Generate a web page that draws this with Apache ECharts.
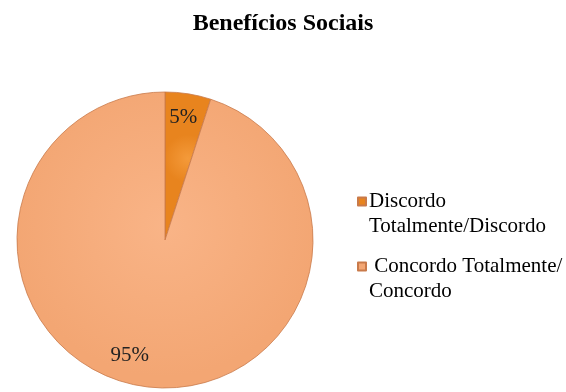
<!DOCTYPE html>
<html><head><meta charset="utf-8">
<script src="https://cdn.jsdelivr.net/npm/echarts@6/dist/echarts.min.js"></script>
<style>html,body{margin:0;padding:0;background:#fff}#c{width:566px;height:392px}</style>
</head><body><div id="c"></div>
<script>
const titleText = 'Benefícios Sociais';
const categories = ['Discordo Totalmente/Discordo', 'Concordo Totalmente/Concordo'];
const legendLabels = ['Discordo\nTotalmente/Discordo', ' Concordo Totalmente/\nConcordo'];
const values = [5, 95];
const colors = ['#EE8A2A', '#F5A875'];

const chart = echarts.init(document.getElementById('c'));
const serif = '"Liberation Serif", "DejaVu Serif", serif';
const grad = (inner, outer) => ({type:'radial', x:0.5, y:0.45, r:0.6, colorStops:[{offset:0,color:inner},{offset:0.85,color:outer},{offset:1,color:outer}]});
chart.setOption({
  animation: false,
  title: {text: titleText, left: 'center', top: 7, textStyle: {fontFamily: serif, fontSize: 24, fontWeight: 'bold', color: '#000'}},
  legend: {
    orient: 'vertical', left: 352, top: 184, itemGap: 15,
    itemWidth: 8, itemHeight: 33,
    icon: 'path://M0,0h8v8h-8z M0,33l0.001,0',
    data: categories,
    formatter: n => legendLabels[categories.indexOf(n)],
    textStyle: {fontFamily: serif, fontSize: 21, color: '#000', lineHeight: 25, padding:[0,0,0,-2]}
  },
  series: [{
    type: 'pie', center: [165, 240], radius: [0, 148], startAngle: 90, clockwise: true,
    label: {show: false}, labelLine: {show: false}, silent: true,
    itemStyle: {borderColor: '#c97a4a', borderWidth: 0.8},
    data: categories.map((n, i) => ({name: n, value: values[i],
      itemStyle: {color: i === 0 ? grad('#F49A3A', '#E8841E') : grad('#F9B487', '#F3A673')}}))
  }, {
    type: 'pie', center: [165, 240], radius: [92, 148], startAngle: 90, clockwise: true,
    silent: true, labelLine: {show: false},
    itemStyle: {color: 'rgba(0,0,0,0)'},
    label: {show: true, position: 'inside', formatter: '{d}%', fontFamily: serif, fontSize: 21, color: '#222'},
    data: categories.map((n, i) => ({name: n, value: values[i],
      label: i === 1 ? {offset: [-16, -6]} : {offset: [-1, -1]}}))
  }],
  color: colors
});
</script></body></html>
